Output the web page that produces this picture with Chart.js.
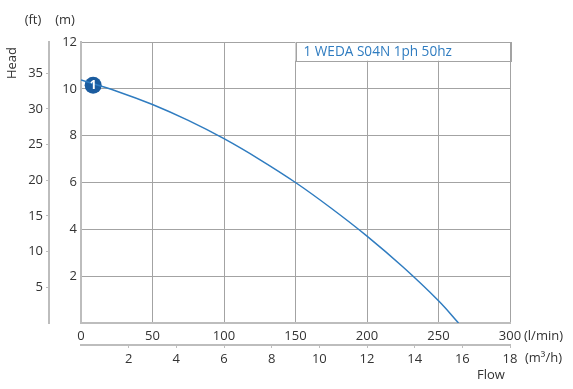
<!DOCTYPE html>
<html>
<head>
<meta charset="utf-8">
<script src="https://cdn.jsdelivr.net/npm/chart.js@4"></script>
<style>
  html, body { margin: 0; padding: 0; background: #fff; }
  #wrap { width: 573px; height: 389px; }
</style>
</head>
<body>
<div id="wrap"><canvas id="pumpChart"></canvas></div>
<script>
// Pump curve data
const flowLpm = [0, 25, 50, 75, 100, 125, 150, 175, 200, 225, 250, 264];
const headM = [10.38, 9.9, 9.33, 8.65, 7.87, 6.98, 6.0, 4.9, 3.71, 2.4, 0.95, 0];
const markerPoint = { x: 8.5, y: 10.15 };
const seriesName = '1 WEDA S04N 1ph 50hz';

const FT_PER_M = 3.2808;
const textColor = '#333';
const gridColor = '#a3a3a3';
const axisColor = '#bdbdbd';
const lineColor = '#2f7cc0';
const markerColor = '#1b5c9f';
const font = { family: '"Open Sans", "Noto Sans", sans-serif', size: 13 };

const hideZero = v => (v === 0 ? '' : v);
const noTickAtZero = ctx => (ctx.tick && ctx.tick.value === 0 ? 'rgba(0,0,0,0)' : axisColor);

// Extra drawing: legend box, marker number, unit labels
const extras = {
    id: 'extras',
    beforeDatasetsDraw(chart) {
        const { ctx, scales } = chart;
        const x1 = scales.x.getPixelForValue(150);
        const x2 = scales.x.getPixelForValue(300);
        const y1 = scales.y.getPixelForValue(12);
        const y2 = scales.y.getPixelForValue(11.2);
        ctx.save();
        ctx.fillStyle = '#fff';
        ctx.fillRect(x1, y1, x2 - x1, y2 - y1);
        ctx.strokeStyle = gridColor;
        ctx.lineWidth = 1;
        ctx.strokeRect(Math.round(x1) + 0.5, Math.round(y1) + 0.5, Math.round(x2 - x1), Math.round(y2 - y1));
        ctx.fillStyle = lineColor;
        ctx.font = '13.6px ' + font.family;
        ctx.textBaseline = 'middle';
        ctx.textAlign = 'left';
        ctx.fillText(seriesName, x1 + 8, (y1 + y2) / 2 + 1);
        ctx.restore();
    },
    afterDatasetsDraw(chart) {
        const { ctx, scales } = chart;
        ctx.save();
        // number in the marker
        const mx = scales.x.getPixelForValue(markerPoint.x);
        const my = scales.y.getPixelForValue(markerPoint.y);
        ctx.fillStyle = '#fff';
        ctx.font = 'bold 12px ' + font.family;
        ctx.textAlign = 'center';
        ctx.textBaseline = 'middle';
        ctx.fillText('1', mx, my + 0.5);

        // unit labels
        ctx.fillStyle = textColor;
        ctx.font = '13px ' + font.family;
        ctx.fillText('(ft)', 33, 20);
        ctx.fillText('(m)', 65, 20);
        ctx.textAlign = 'left';
        ctx.fillText('(l/min)', 524, 336);
        ctx.fillText('(m\u00B3/h)', 525, 358);
        ctx.textAlign = 'center';
        ctx.fillText('Flow', 491, 375);
        ctx.translate(12, 63);
        ctx.rotate(-Math.PI / 2);
        ctx.fillText('Head', 0, 0);
        ctx.restore();
    }
};

new Chart(document.getElementById('pumpChart'), {
    type: 'line',
    data: {
        datasets: [{
            label: seriesName,
            data: flowLpm.map((f, i) => ({ x: f, y: headM[i] })),
            borderColor: lineColor,
            borderWidth: 1.5,
            pointRadius: 0,
            tension: 0.4,
            fill: false
        }, {
            label: 'marker',
            data: [markerPoint],
            showLine: false,
            pointRadius: 8.5,
            pointBackgroundColor: markerColor,
            pointBorderColor: markerColor,
            pointBorderWidth: 0
        }]
    },
    options: {
        responsive: true,
        maintainAspectRatio: false,
        animation: false,
        layout: { padding: { top: 42, right: 63, left: 0, bottom: 0 } },
        plugins: { legend: { display: false }, tooltip: { enabled: false } },
        scales: {
            x: {
                type: 'linear', position: 'bottom', min: 0, max: 300,
                ticks: { stepSize: 50, color: textColor, font: font, padding: 5 },
                grid: { color: gridColor, drawTicks: false },
                border: { color: axisColor, width: 2 },
                afterFit: s => { s.height = 22; }
            },
            x2: {
                type: 'linear', position: 'bottom', min: 0, max: 18,
                ticks: { stepSize: 2, color: textColor, font: font, padding: 3, callback: hideZero },
                grid: { drawOnChartArea: false, tickLength: 3, color: noTickAtZero },
                border: { color: axisColor, width: 2 },
                afterFit: s => { s.height = 44; }
            },
            y: {
                type: 'linear', position: 'left', min: 0, max: 12,
                ticks: { stepSize: 2, color: textColor, font: font, padding: 4, callback: hideZero },
                grid: { color: gridColor, drawTicks: false },
                border: { color: axisColor, width: 2 },
                afterFit: s => { s.width = 32; }
            },
            y2: {
                type: 'linear', position: 'left', min: 0, max: 12 * FT_PER_M,
                ticks: { stepSize: 5, includeBounds: false, color: textColor, font: font, padding: 3, callback: hideZero },
                grid: { drawOnChartArea: false, tickLength: 3, color: noTickAtZero },
                border: { color: axisColor, width: 2 },
                afterFit: s => { s.width = 49; }
            }
        }
    },
    plugins: [extras]
});
</script>
</body>
</html>
